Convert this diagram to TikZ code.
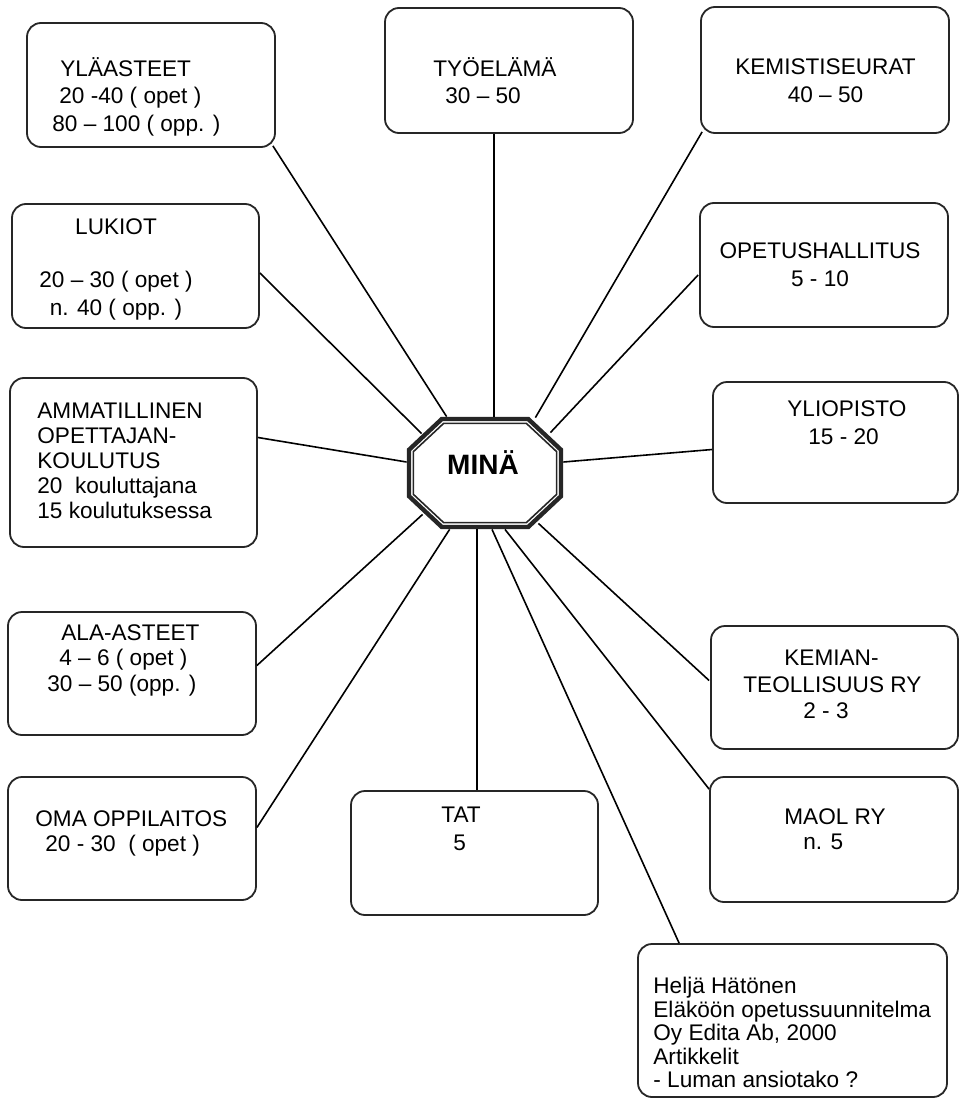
\documentclass[tikz,border=0pt]{standalone}
\usepackage{fontspec}
\setmainfont{Liberation Sans}
\usetikzlibrary{calc}

\begin{document}
\begin{tikzpicture}[x=0.5pt,y=-0.5pt,
  box/.style={draw=black!85,line width=0.9pt,rounded corners=7pt,inner sep=0pt},
  txt/.style={inner sep=0pt,anchor=north west,align=left,
    execute at begin node={\rule{0pt}{11pt}}},
  link/.style={line width=0.8pt}]
\useasboundingbox (0,0) rectangle (959,1107);

% boxes
\node[box,minimum width=124pt,minimum height=62pt] (YLA) at (151,85) {};
\node[box,minimum width=124pt,minimum height=62.5pt] (TYO) at (509,70.5) {};
\node[box,minimum width=124pt,minimum height=63pt] (KEM) at (825,70) {};
\node[box,minimum width=123.5pt,minimum height=62pt] (LUK) at (135.5,266) {};
\node[box,minimum width=124pt,minimum height=62pt] (OPE) at (824,265) {};
\node[box,minimum width=123.5pt,minimum height=84.5pt] (AMM) at (133.5,462.5) {};
\node[box,minimum width=122.5pt,minimum height=60.5pt] (YLI) at (835.5,442.5) {};
\node[box,minimum width=124pt,minimum height=61.5pt] (ALA) at (132,673.5) {};
\node[box,minimum width=123.5pt,minimum height=61.5pt] (KTE) at (834.5,687.5) {};
\node[box,minimum width=124pt,minimum height=61.5pt] (OMA) at (132,838.5) {};
\node[box,minimum width=123.5pt,minimum height=62pt] (TAT) at (474.5,853) {};
\node[box,minimum width=124pt,minimum height=62.5pt] (MAO) at (834,839.5) {};
\node[box,minimum width=154.5pt,minimum height=76.5pt] (HEL) at (792.5,1020.5) {};

% texts
\node[txt,font=\fontsize{11.3}{13.75}\selectfont] (YLAt) at (52,57)
  {\hspace*{4pt}YLÄASTEET\\\hspace*{3.5pt}20 -40 ( opet )\\80 – 100 ( opp. )};
\node[txt,font=\fontsize{11.3}{13.5}\selectfont] (TYOt) at (433,57)
  {TYÖELÄMÄ\\\hspace*{6pt}30 – 50};
\node[txt,anchor=north,align=center,font=\fontsize{11.3}{14}\selectfont] (KEMt) at (825.5,58)
  {KEMISTISEURAT\\40 – 50};
\node[txt,anchor=north,align=center,font=\fontsize{11.3}{14}\selectfont] (LUKt) at (116,218)
  {LUKIOT\\[12.5pt]20 – 30 ( opet )\\n. 40 ( opp. )};
\node[txt,anchor=north,align=center,font=\fontsize{11.3}{14}\selectfont] (OPEt) at (820,242)
  {OPETUSHALLITUS\\5 - 10};
\node[txt,font=\fontsize{11.3}{12.5}\selectfont] (AMMt) at (37,403)
  {AMMATILLINEN\\OPETTAJAN-\\KOULUTUS\\20~ kouluttajana\\15 koulutuksessa};
\node[txt,font=\fontsize{11.3}{14}\selectfont] (YLIt) at (787,400)
  {YLIOPISTO\\\hspace*{10.5pt}15 - 20};
\node[txt,font=\fontsize{11.3}{12.75}\selectfont] (ALAt) at (47,624)
  {\hspace*{7pt}ALA-ASTEET\\\hspace*{6pt}4 – 6 ( opet )\\30 – 50 (opp. )};
\node[txt,font=\fontsize{11.3}{13.25}\selectfont] (KTEt) at (743,650)
  {\hspace*{20.5pt}KEMIAN-\\TEOLLISUUS RY\\\hspace*{30pt}2 - 3};
\node[txt,font=\fontsize{11.3}{12.5}\selectfont] (OMAt) at (35,810)
  {OMA OPPILAITOS\\\hspace*{5pt}20 - 30~ ( opet )};
\node[txt,font=\fontsize{11.3}{14}\selectfont] (TATt) at (441,807)
  {TAT\\\hspace*{6pt}5};
\node[txt,font=\fontsize{11.3}{12.5}\selectfont] (MAOt) at (784,808)
  {MAOL RY\\\hspace*{9.5pt}n. 5};
\node[txt,font=\fontsize{11.3}{11.75}\selectfont] (HELt) at (653,977)
  {Heljä Hätönen\\Eläköön opetussuunnitelma\\Oy Edita Ab, 2000\\Artikkelit\\- Luman ansiotako ?};

% centre
\node[minimum width=78pt,minimum height=56pt,inner sep=0pt] (MINA) at (485,473) {};
\foreach \d/\w in {2/2.2pt,6.4/0.8pt}
  \draw[line width=\w,black!85] ({441+0.41*\d},{417+\d}) -- ({529-0.41*\d},{417+\d})
    -- ({563-\d},{449+0.41*\d}) -- ({563-\d},{497-0.41*\d})
    -- ({529-0.41*\d},{529-\d}) -- ({441+0.41*\d},{529-\d})
    -- ({407+\d},{497-0.41*\d}) -- ({407+\d},{449+0.41*\d}) -- cycle;
\node[inner sep=0pt,font=\fontsize{14}{16}\bfseries\selectfont] (MINAt) at (483,463) {MINÄ};

% connectors
\draw[link] ($(YLA.south east)+(-3,-2)$) -- ($(MINA.north west)+(40,0)$);
\draw[link] ($(TYO.south)+(-15,0)$) -- ($(MINA.north)+(9,0)$);
\draw[link] ($(KEM.south west)+(2,-2)$) -- ($(MINA.north east)+(-28,1)$);
\draw[link] ($(LUK.east)+(0,7)$) -- ($(MINA.north west)+(15,17)$);
\draw[link] ($(OPE.west)+(-1,10)$) -- ($(MINA.north east)+(-13,16)$);
\draw[link] ($(AMM.east)+(0,-25)$) -- ($(MINA.west)+(0,-11)$);
\draw[link] ($(YLI.west)+(0,7)$) -- ($(MINA.east)+(0,-11)$);
\draw[link] ($(ALA.east)+(0,-8)$) -- ($(MINA.south west)+(16,-15)$);
\draw[link] ($(OMA.east)+(0,-11)$) -- ($(MINA.south west)+(43,0)$);
\draw[link] ($(TAT.north)+(2.5,0)$) -- ($(MINA.south)+(-8,0)$);
\draw[link] ($(KTE.west)+(-1,-7)$) -- ($(MINA.south east)+(-25,-6)$);
\draw[link] ($(MAO.north west)+(0,13)$) -- ($(MINA.south)+(20,0)$);
\draw[link] ($(HEL.north west)+(42,0)$) -- ($(MINA.south)+(7,0)$);
\end{tikzpicture}
\end{document}
